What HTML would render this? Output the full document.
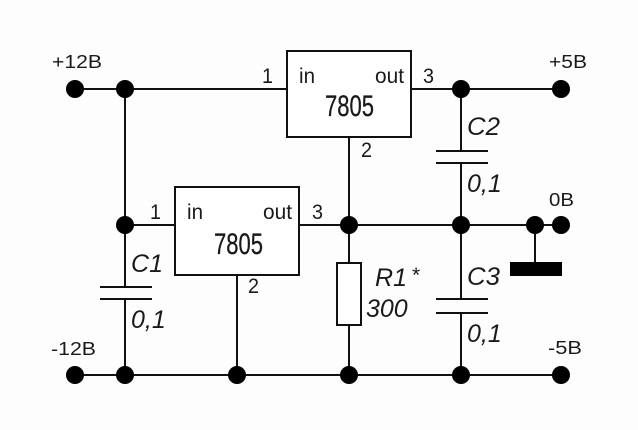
<!DOCTYPE html>
<html>
<head>
<meta charset="utf-8">
<style>
html,body{margin:0;padding:0;background:#fff;width:638px;height:430px;overflow:hidden}
svg{display:block;filter:blur(0.35px)}
text{font-family:"Liberation Sans",sans-serif;fill:#1a1a1a}
</style>
</head>
<body>
<svg width="638" height="430" viewBox="0 0 638 430" xmlns="http://www.w3.org/2000/svg">
<rect width="638" height="430" fill="#fdfdfd"/>
<g stroke="#111" stroke-width="2" fill="none">
<!-- top rail -->
<line x1="75" y1="89" x2="287" y2="89"/>
<line x1="411" y1="89" x2="561" y2="89"/>
<!-- middle rail -->
<line x1="125" y1="225" x2="175" y2="225"/>
<line x1="299" y1="225" x2="561" y2="225"/>
<!-- bottom rail -->
<line x1="75" y1="375" x2="561" y2="375"/>
<!-- verticals -->
<line x1="125" y1="89" x2="125" y2="287"/>
<line x1="125" y1="299" x2="125" y2="375"/>
<line x1="237" y1="275" x2="237" y2="375"/>
<line x1="349" y1="137" x2="349" y2="262"/>
<line x1="349" y1="325" x2="349" y2="375"/>
<line x1="461" y1="89" x2="461" y2="151"/>
<line x1="461" y1="163" x2="461" y2="299"/>
<line x1="461" y1="313" x2="461" y2="375"/>
<line x1="535" y1="225" x2="535" y2="263"/>
<!-- regulators -->
<rect x="287" y="51" width="124" height="86" fill="#fff"/>
<rect x="175" y="187" width="124" height="88" fill="#fff"/>
<!-- resistor -->
<rect x="337" y="263" width="24" height="62" fill="#fff"/>
</g>
<!-- capacitors -->
<g stroke="#111" stroke-width="2" fill="none">
<line x1="100" y1="287" x2="152" y2="287"/>
<line x1="100" y1="299" x2="152" y2="299"/>
<line x1="436" y1="151" x2="488" y2="151"/>
<line x1="436" y1="163" x2="488" y2="163"/>
<line x1="436" y1="299" x2="488" y2="299"/>
<line x1="436" y1="313" x2="488" y2="313"/>
</g>
<!-- ground bar -->
<rect x="510" y="262" width="52" height="14" fill="#000"/>
<!-- nodes -->
<g fill="#000">
<circle cx="75" cy="89" r="9"/>
<circle cx="125" cy="89" r="9"/>
<circle cx="461" cy="89" r="9"/>
<circle cx="561" cy="89" r="9"/>
<circle cx="125" cy="225" r="9"/>
<circle cx="349" cy="225" r="9"/>
<circle cx="461" cy="225" r="9"/>
<circle cx="535" cy="225" r="9"/>
<circle cx="561" cy="225" r="9"/>
<circle cx="75" cy="375" r="9"/>
<circle cx="125" cy="375" r="9"/>
<circle cx="237" cy="375" r="9"/>
<circle cx="349" cy="375" r="9"/>
<circle cx="461" cy="375" r="9"/>
<circle cx="561" cy="375" r="9"/>
</g>
<!-- power labels -->
<g font-size="18">
<text x="52" y="68" textLength="50" lengthAdjust="spacingAndGlyphs">+12В</text>
<text x="549" y="68" textLength="38" lengthAdjust="spacingAndGlyphs">+5В</text>
<text x="549" y="206" textLength="25" lengthAdjust="spacingAndGlyphs">0В</text>
<text x="51" y="355" textLength="45" lengthAdjust="spacingAndGlyphs">-12В</text>
<text x="548" y="354" textLength="34" lengthAdjust="spacingAndGlyphs">-5В</text>
</g>
<!-- pin labels -->
<g font-size="21">
<text x="262" y="83" textLength="11" lengthAdjust="spacingAndGlyphs">1</text>
<text x="423" y="83" textLength="11" lengthAdjust="spacingAndGlyphs">3</text>
<text x="361" y="157" textLength="11" lengthAdjust="spacingAndGlyphs">2</text>
<text x="150" y="219" textLength="11" lengthAdjust="spacingAndGlyphs">1</text>
<text x="312" y="219" textLength="11" lengthAdjust="spacingAndGlyphs">3</text>
<text x="248" y="293" textLength="11" lengthAdjust="spacingAndGlyphs">2</text>
<!-- in/out -->
<text x="299" y="83" textLength="16" lengthAdjust="spacingAndGlyphs">in</text>
<text x="375" y="83" textLength="29" lengthAdjust="spacingAndGlyphs">out</text>
<text x="187" y="219" textLength="16" lengthAdjust="spacingAndGlyphs">in</text>
<text x="263" y="219" textLength="29" lengthAdjust="spacingAndGlyphs">out</text>
</g>
<!-- part numbers -->
<g font-size="30" stroke="#1a1a1a" stroke-width="0.3">
<text x="325" y="116" textLength="49" lengthAdjust="spacingAndGlyphs">7805</text>
<text x="214" y="254" textLength="49" lengthAdjust="spacingAndGlyphs">7805</text>
</g>
<!-- italic component labels -->
<g font-size="25" font-style="italic">
<text x="131" y="272" textLength="32" lengthAdjust="spacingAndGlyphs">С1</text>
<text x="467" y="135" textLength="33" lengthAdjust="spacingAndGlyphs">С2</text>
<text x="467" y="285" textLength="33" lengthAdjust="spacingAndGlyphs">С3</text>
<text x="375" y="286" textLength="32" lengthAdjust="spacingAndGlyphs">R1</text>
<text x="131" y="328">0,1</text>
<text x="467" y="192">0,1</text>
<text x="467" y="342">0,1</text>
<text x="366" y="317">300</text>
</g>
<text x="412" y="282" font-size="21">*</text>
</svg>
</body>
</html>
